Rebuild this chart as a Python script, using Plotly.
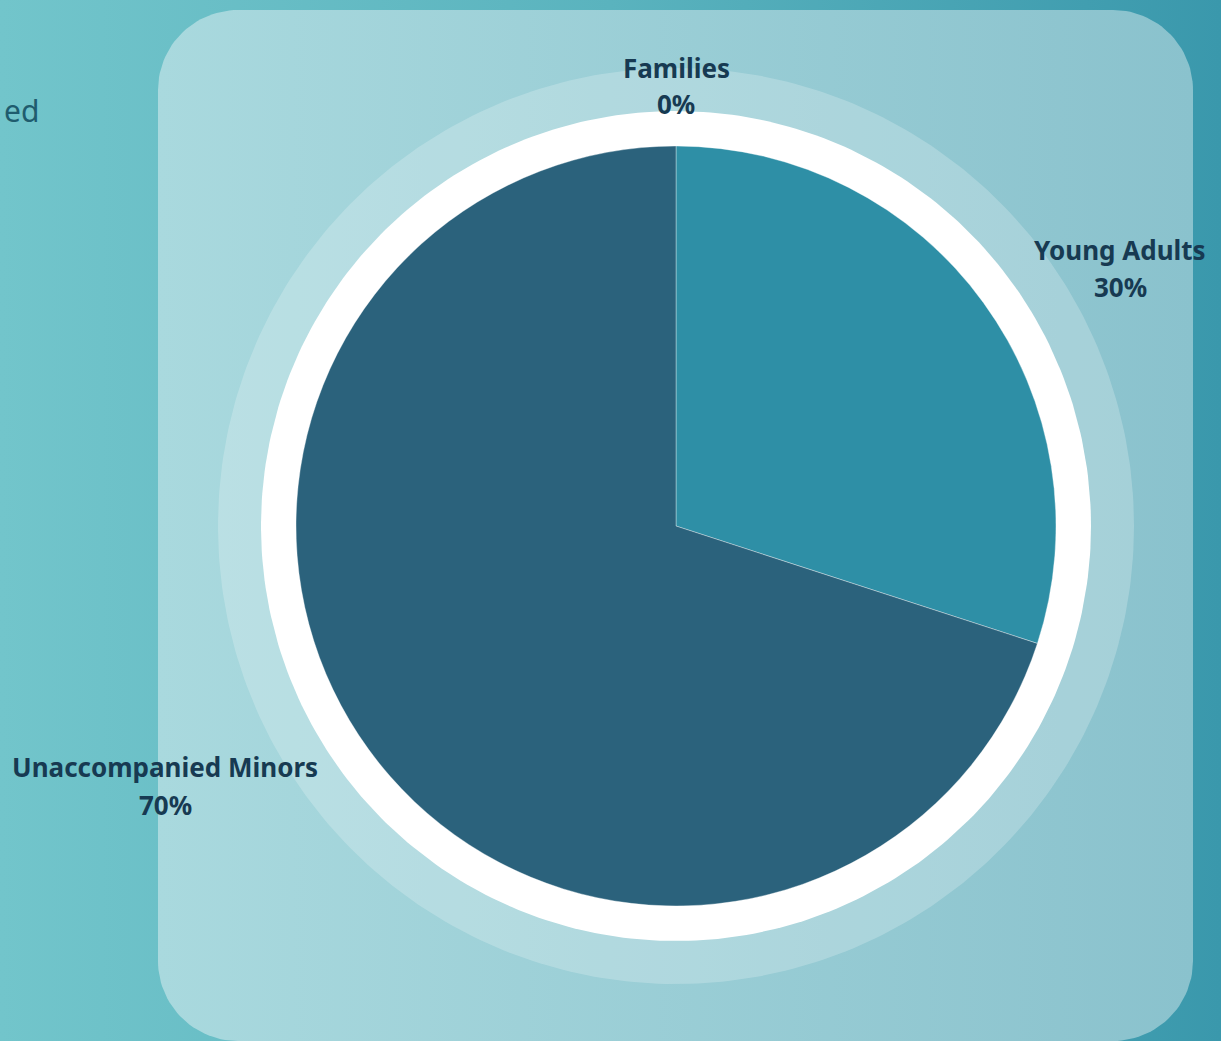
import numpy as np
import plotly.graph_objects as go

# ---- data ----
categories = ["Families", "Young Adults", "Unaccompanied Minors"]
shares = [0, 30, 70]
slice_colors = ["#8ccbd4", "#2e8fa6", "#2b627c"]

W, H = 1221, 1041
CX, CY = 676, 526
R_PIE, R_WHITE, R_RING = 380, 415, 458

# label placement (layout, not data)
label_pos = {
    "Families": (676, 68, 104),
    "Young Adults": (1120, 250, 287),
    "Unaccompanied Minors": (165, 767, 805),
}

def circle(r, n=360):
    t = np.linspace(0, 2 * np.pi, n)
    return CX + r * np.cos(t), CY + r * np.sin(t)

def rounded_rect(x0, y0, x1, y1, r, n=30):
    xs, ys = [], []
    corners = [(x1 - r, y0 + r, -np.pi / 2, 0), (x1 - r, y1 - r, 0, np.pi / 2),
               (x0 + r, y1 - r, np.pi / 2, np.pi), (x0 + r, y0 + r, np.pi, 1.5 * np.pi)]
    for cx, cy, a0, a1 in corners:
        t = np.linspace(a0, a1, n)
        xs += list(cx + r * np.cos(t))
        ys += list(cy + r * np.sin(t))
    xs.append(xs[0]); ys.append(ys[0])
    return xs, ys

fig = go.Figure()

# background
fig.add_trace(go.Scatter(x=[0, W, W, 0, 0], y=[0, 0, H, H, 0], mode="lines", fill="toself",
                         line=dict(width=0),
                         fillgradient=dict(type="horizontal",
                                           colorscale=[[0, "#72c5cb"], [0.5, "#5ab3be"], [1, "#3a98ac"]]),
                         hoverinfo="skip", showlegend=False))
# panel
px, py = rounded_rect(158, 10, 1193, 1041, 80)
fig.add_trace(go.Scatter(x=px, y=py, mode="lines", fill="toself", line=dict(width=0),
                         fillgradient=dict(type="horizontal",
                                           colorscale=[[0, "#a9d9de"], [1, "#8ac2cd"]]),
                         hoverinfo="skip", showlegend=False))
# light ring
rx, ry = circle(R_RING)
fig.add_trace(go.Scatter(x=rx, y=ry, mode="lines", fill="toself", line=dict(width=0),
                         fillcolor="rgba(255,255,255,0.22)", hoverinfo="skip", showlegend=False))
# white ring
wx, wy = circle(R_WHITE)
fig.add_trace(go.Scatter(x=wx, y=wy, mode="lines", fill="toself", line=dict(width=0),
                         fillcolor="#ffffff", hoverinfo="skip", showlegend=False))

# pie
fig.add_trace(go.Pie(labels=categories, values=shares, sort=False, direction="clockwise",
                     rotation=0, textinfo="none", showlegend=False,
                     marker=dict(colors=slice_colors, line=dict(color="rgba(255,255,255,0.35)", width=1)),
                     domain=dict(x=[(CX - R_PIE) / W, (CX + R_PIE) / W],
                                 y=[(H - CY - R_PIE) / H, (H - CY + R_PIE) / H])))

font = dict(family="Noto Sans", size=26, color="#173a52", weight="bold")
for cat, val in zip(categories, shares):
    x, y1, y2 = label_pos[cat]
    fig.add_annotation(x=x, y=y1, text=cat, showarrow=False, font=font, xanchor="center", yanchor="middle")
    fig.add_annotation(x=x, y=y2, text=f"{val}%", showarrow=False, font=font, xanchor="center", yanchor="middle")

fig.add_annotation(x=2, y=110, text="ed", showarrow=False, xanchor="left", yanchor="middle",
                   font=dict(family="Noto Sans", size=30, color="#1f5c6e"))

fig.update_layout(width=W, height=H, margin=dict(l=0, r=0, t=0, b=0),
                  paper_bgcolor="#5ab3be", plot_bgcolor="rgba(0,0,0,0)",
                  xaxis=dict(range=[0, W], visible=False, fixedrange=True),
                  yaxis=dict(range=[H, 0], visible=False, fixedrange=True))

fig.write_html("out.html", config={"displayModeBar": False},
               post_script="document.body.style.margin='0';")
